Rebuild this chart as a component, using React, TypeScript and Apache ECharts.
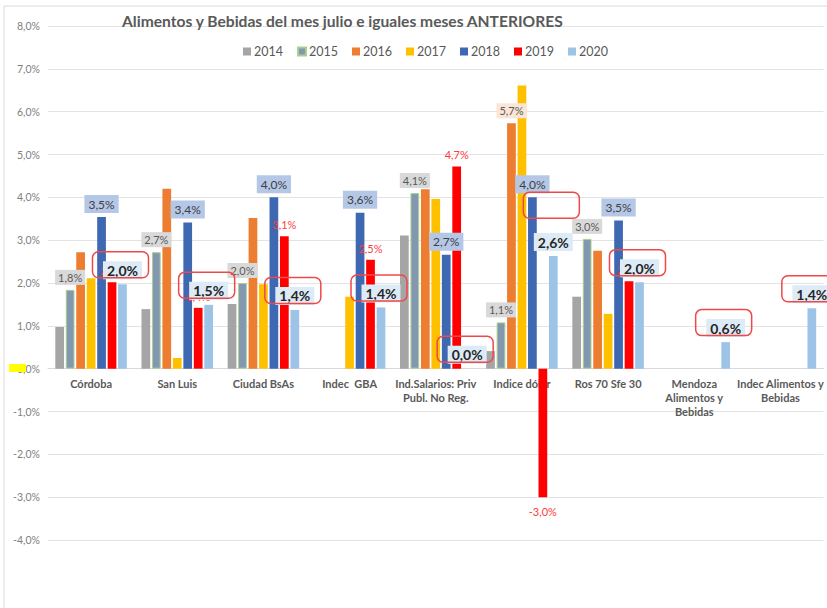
import React, { useEffect, useRef } from "react";
import * as echarts from "echarts";

const categories = [
  "Córdoba",
  "San Luis",
  "Ciudad BsAs",
  "Indec  GBA",
  "Ind.Salarios: Priv\nPubl. No Reg.",
  "Indice dólar",
  "Ros 70 Sfe 30",
  "Mendoza\nAlimentos y\nBebidas",
  "Indec Alimentos y\nBebidas",
];
const years = ["2014", "2015", "2016", "2017", "2018", "2019", "2020"];

const s2014 = [0.97, 1.39, 1.51, null, 3.11, 0.41, 1.68, null, null];
const s2015 = [1.84, 2.72, 2.0, null, 4.1, 1.08, 3.03, null, null];
const s2016 = [2.72, 4.2, 3.52, null, 4.19, 5.73, 2.75, null, null];
const s2017 = [2.11, 0.25, 1.97, 1.68, 3.96, 6.61, 1.28, null, null];
const s2018 = [3.54, 3.41, 4.0, 3.64, 2.66, 4.0, 3.46, null, null];
const s2019 = [2.02, 1.42, 3.09, 2.54, 4.72, -3.0, 2.04, null, null];
const s2020 = [1.97, 1.49, 1.37, 1.43, 0.0, 2.63, 2.02, 0.62, 1.41];

// hand-drawn red annotation boxes (anchored on the category / value scale)
const boxValues = [1.97, 1.49, 1.37, 1.43, 0.0, 3.36, 2.02, 0.62, 1.41];

const yTicks = { min: -4, max: 8, interval: 1 };

const colors = ["#a5a5a5", "#8497b0", "#ed7d31", "#ffc000", "#3f68b3", "#ff0000", "#9dc3e6"];

const fmt = (v: number) => v.toFixed(1).replace(".", ",") + "%";
const FONT = "Lato, 'Liberation Sans', sans-serif";
const CAT_GAP = 0.17;
const BAR_GAP = 0.2;
const GRID = { left: 48, right: 0, top: 26, bottom: 68 };
const H = 608;

export default function App() {
  const ref = useRef<HTMLDivElement>(null);
  useEffect(() => {
    if (!ref.current) return;
    const chart = echarts.init(ref.current, undefined, { renderer: "svg" });

    const labelFmt = (p: any) => (p.value == null ? "" : fmt(p.value));

    const barBase = (name: string, idx: number, data: any[], extra: any = {}) => ({
      name,
      type: "bar",
      data,
      barCategoryGap: (CAT_GAP * 100).toFixed(0) + "%",
      barGap: (BAR_GAP * 100).toFixed(0) + "%",
      itemStyle: { color: colors[idx] },
      ...extra,
    });

    const series: any[] = [
      barBase("2014", 0, s2014),
      barBase("2015", 1, s2015, {
        itemStyle: { color: colors[1], borderColor: "#a9d18e", borderWidth: 1 },
        label: {
          show: true,
          position: "top",
          distance: 5,
          formatter: labelFmt,
          color: "#595959",
          fontSize: 11,
          fontFamily: FONT,
          backgroundColor: "#d9d9d9",
          padding: [2, 3],
        },
      }),
      barBase(
        "2016",
        2,
        s2016.map((v, i) => (i === 5 ? { value: v, label: { show: true } } : v)),
        {
          label: {
            show: false,
            position: "top",
            distance: 5,
            formatter: labelFmt,
            color: "#595959",
            fontSize: 11,
            fontFamily: FONT,
            backgroundColor: "#fbe5d6",
            padding: [2, 3],
          },
        }
      ),
      barBase("2017", 3, s2017),
      barBase("2018", 4, s2018, {
        label: {
          show: true,
          position: "top",
          distance: 4,
          formatter: labelFmt,
          color: "#404040",
          fontSize: 12,
          fontFamily: FONT,
          backgroundColor: "#b4c7e7",
          padding: [3, 4],
        },
      }),
      barBase(
        "2019",
        5,
        s2019.map((v) =>
          v != null && v < 0 ? { value: v, label: { position: "bottom", distance: 9 } } : v
        ),
        {
          label: {
            show: true,
            position: "top",
            distance: 6,
            formatter: labelFmt,
            color: "#ff3b3b",
            fontSize: 11,
            fontFamily: FONT,
          },
        }
      ),
      barBase("2020", 6, s2020, {
        z: 3,
        label: {
          show: true,
          position: "top",
          distance: 5,
          formatter: labelFmt,
          color: "#262626",
          fontSize: 14,
          fontWeight: "bold",
          fontFamily: FONT,
          backgroundColor: "#ddebf7",
          padding: [2, 4],
        },
      }),
      {
        type: "custom",
        name: "boxes",
        z: 5,
        silent: true,
        encode: { x: 0, y: 1 },
        data: boxValues.map((v, i) => [i, v]),
        renderItem: (_params: any, api: any) => {
          const idx = api.value(0);
          const val = api.value(1);
          const p = api.coord([idx, val]);
          const band = api.size([1, 0])[0];
          const w = (band * (1 - CAT_GAP)) / (7 + 6 * BAR_GAP);
          const off = 3 * (1 + BAR_GAP) * w;
          const cx = p[0] + off - 2;
          const cy = p[1] - 19.5;
          return {
            type: "rect",
            shape: { x: cx - 28, y: cy - 13, width: 56, height: 26, r: 6 },
            style: { fill: "none", stroke: "#f04848", lineWidth: 1.5 },
          };
        },
      },
    ];

    // place the category axis on the zero line
    const gridH = H - GRID.top - GRID.bottom;
    const zeroOffset = -(gridH * (0 - yTicks.min)) / (yTicks.max - yTicks.min);

    chart.setOption({
      animation: false,
      textStyle: { fontFamily: FONT },
      title: {
        text: "Alimentos y Bebidas del mes julio e iguales meses ANTERIORES",
        left: 122,
        top: 13,
        padding: 0,
        textStyle: { fontSize: 15.6, fontWeight: "bold", color: "#595959", fontFamily: FONT },
      },
      legend: {
        data: years,
        left: 243,
        top: 45,
        padding: 0,
        itemWidth: 8,
        itemHeight: 8,
        itemGap: 14,
        icon: "rect",
        textStyle: { fontSize: 12.5, color: "#595959", fontFamily: FONT, padding: [0, 0, 0, -2] },
      },
      grid: { ...GRID, containLabel: false },
      xAxis: {
        type: "category",
        data: categories,
        offset: zeroOffset,
        axisLine: { show: true, onZero: false, lineStyle: { color: "#d9d9d9" } },
        axisTick: { show: false },
        axisLabel: {
          interval: 0,
          color: "#595959",
          fontSize: 11,
          fontWeight: "bold",
          fontFamily: FONT,
          lineHeight: 14,
          margin: 8,
        },
      },
      yAxis: {
        type: "value",
        min: yTicks.min,
        max: yTicks.max,
        interval: yTicks.interval,
        axisLine: { show: false },
        axisTick: { show: false },
        splitLine: { lineStyle: { color: "#e3e3e3" } },
        axisLabel: {
          formatter: (v: number) => fmt(v),
          color: "#808080",
          fontSize: 10.5,
          fontFamily: FONT,
          margin: 8,
        },
      },
      graphic: [
        {
          type: "rect",
          shape: { x: 4, y: 6, width: 840, height: 620 },
          style: { fill: "none", stroke: "#d9d9d9", lineWidth: 1 },
          silent: true,
        },
        {
          type: "rect",
          shape: { x: 9, y: 364, width: 17, height: 8 },
          style: { fill: "#ffff00" },
          z: 100,
          silent: true,
        },
      ],
      series,
    });

    return () => chart.dispose();
  }, []);

  return (
    <div
      ref={ref}
      style={{ position: "fixed", left: 0, top: 0, width: 827, height: 608, background: "#fff" }}
    />
  );
}
